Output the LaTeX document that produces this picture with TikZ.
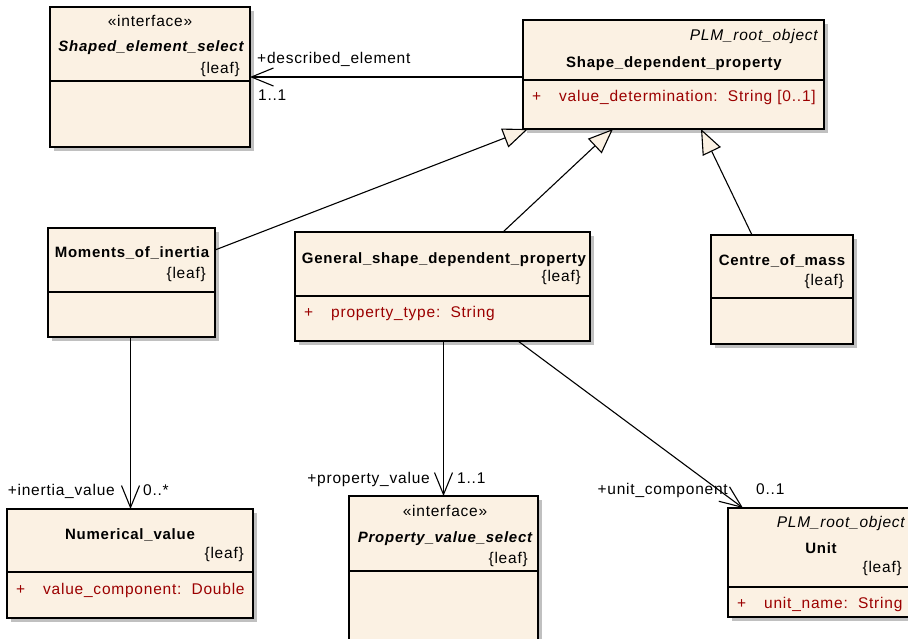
\documentclass[tikz,border=0pt]{standalone}
\usepackage{fontspec}
\setmainfont{Liberation Sans}[LetterSpace=5]
\usetikzlibrary{arrows.meta,shadows}

\definecolor{classfill}{RGB}{251,241,227}
\definecolor{attrred}{RGB}{155,0,0}
\definecolor{shadegray}{RGB}{192,192,192}

\begin{document}
\begin{tikzpicture}[x=1pt,y=-1pt,
  font=\fontsize{15.5}{17}\selectfont,
  classbox/.style={draw=black, line width=1.3pt, fill=classfill,
    anchor=north west, inner sep=0pt, outer sep=0pt,
    general shadow={fill=shadegray, shadow xshift=4pt, shadow yshift=-4pt}},
  sepline/.style={draw=black, line width=1.3pt},
  ctext/.style={anchor=base, inner sep=0pt},
  rtext/.style={anchor=base east, inner sep=0pt},
  ltext/.style={anchor=base west, inner sep=0pt},
  cname/.style={ctext, font=\fontsize{15}{17}\selectfont\bfseries},
  iname/.style={ctext, font=\fontsize{15}{17}\selectfont\bfseries\itshape},
  rootname/.style={rtext, font=\fontsize{15.5}{17}\selectfont\itshape},
  attr/.style={ltext, text=attrred},
  conn/.style={draw=black, line width=1.1pt},
  assoc/.style={conn, -{Straight Barb[length=22pt,width=18pt]}},
  gen/.style={conn, -{Triangle[length=25pt,width=20pt,fill=classfill]}}]

\useasboundingbox (0,0) rectangle (908,638);
\clip (0,0) rectangle (908,638);

% ---- classes ----
\node[classbox, minimum width=200pt, minimum height=140pt] (ses) at (50,7) {};
\draw[sepline] ([yshift=-74pt]ses.north west) -- ([yshift=-74pt]ses.north east);
\node[ctext] (ses-st) at (150,26) {«interface»};
\node[iname] (ses-nm) at (151,51) {Shaped\_element\_select};
\node[rtext] (ses-lf) at (240,73) {\{leaf\}};

\node[classbox, minimum width=301pt, minimum height=109pt] (sdp) at (523,20) {};
\draw[sepline] ([yshift=-60pt]sdp.north west) -- ([yshift=-60pt]sdp.north east);
\node[rootname] (sdp-rt) at (818,40) {PLM\_root\_object};
\node[cname] (sdp-nm) at (674,67) {Shape\_dependent\_property};
\node[attr] (sdp-pl) at (532,101) {+};
\node[attr] (sdp-at) at (559,101) {value\_determination:\ \ String [0..1]};

\node[classbox, minimum width=167pt, minimum height=109pt] (moi) at (48,228) {};
\draw[sepline] ([yshift=-64pt]moi.north west) -- ([yshift=-64pt]moi.north east);
\node[cname] (moi-nm) at (132,257) {Moments\_of\_inertia};
\node[rtext] (moi-lf) at (206,278) {\{leaf\}};

\node[classbox, minimum width=295pt, minimum height=109pt] (gsdp) at (295,232) {};
\draw[sepline] ([yshift=-64pt]gsdp.north west) -- ([yshift=-64pt]gsdp.north east);
\node[cname] (gsdp-nm) at (444,263) {General\_shape\_dependent\_property};
\node[rtext] (gsdp-lf) at (581,281) {\{leaf\}};
\node[attr] (gsdp-pl) at (304,317) {+};
\node[attr] (gsdp-at) at (331,317) {property\_type:\ \ String};

\node[classbox, minimum width=142pt, minimum height=109pt] (com) at (711,235) {};
\draw[sepline] ([yshift=-63pt]com.north west) -- ([yshift=-63pt]com.north east);
\node[cname] (com-nm) at (782,265) {Centre\_of\_mass};
\node[rtext] (com-lf) at (844,285) {\{leaf\}};

\node[classbox, minimum width=246pt, minimum height=109pt] (nv) at (7,509) {};
\draw[sepline] ([yshift=-63pt]nv.north west) -- ([yshift=-63pt]nv.north east);
\node[cname] (nv-nm) at (130,539) {Numerical\_value};
\node[rtext] (nv-lf) at (244,558) {\{leaf\}};
\node[attr] (nv-pl) at (16,594) {+};
\node[attr] (nv-at) at (43,594) {value\_component:\ \ Double};

\node[classbox, minimum width=189pt, minimum height=160pt] (pvs) at (349,496) {};
\draw[sepline] ([yshift=-75pt]pvs.north west) -- ([yshift=-75pt]pvs.north east);
\node[ctext] (pvs-st) at (445,516) {«interface»};
\node[iname] (pvs-nm) at (445,542) {Property\_value\_select};
\node[rtext] (pvs-lf) at (528,563) {\{leaf\}};

\node[classbox, minimum width=184pt, minimum height=109pt] (unit) at (728,508) {};
\draw[sepline] ([yshift=-79pt]unit.north west) -- ([yshift=-79pt]unit.north east);
\node[rootname] (unit-rt) at (905,527) {PLM\_root\_object};
\node[cname] (unit-nm) at (821,553) {Unit};
\node[rtext] (unit-lf) at (902,572) {\{leaf\}};
\node[attr] (unit-pl) at (737,608) {+};
\node[attr] (unit-at) at (764,608) {unit\_name:\ \ String};

% ---- generalizations ----
\draw[gen] ([yshift=-22pt]moi.north east) -- ([xshift=5pt]sdp.south west);
\draw[gen] ([xshift=208pt]gsdp.north west) -- ([xshift=90pt]sdp.south west);
\draw[gen] ([xshift=41pt]com.north west) -- ([xshift=178pt]sdp.south west);

% ---- associations ----
\draw[assoc] ([yshift=-57pt]sdp.north west) -- ([yshift=-70pt]ses.north east);
\node[ltext] (a1-role) at (257,63) {+described\_element};
\node[ltext] (a1-mult) at (258,100) {1..1};

\draw[assoc] ([xshift=-1pt]moi.south) -- ([xshift=-1pt]moi.south |- nv.north);
\node[rtext] (a2-role) at (115,495) {+inertia\_value};
\node[ltext] (a2-mult) at (143,495) {0..*};

\draw[assoc] ([xshift=1pt]gsdp.south) -- ([xshift=1pt]gsdp.south |- pvs.north);
\node[rtext] (a3-role) at (430,483) {+property\_value};
\node[ltext] (a3-mult) at (457,483) {1..1};

\draw[assoc] ([xshift=223pt]gsdp.south west) -- ([xshift=15pt]unit.north west);
\node[rtext] (a4-role) at (728,494) {+unit\_component};
\node[ltext] (a4-mult) at (756,494) {0..1};
\end{tikzpicture}
\end{document}
